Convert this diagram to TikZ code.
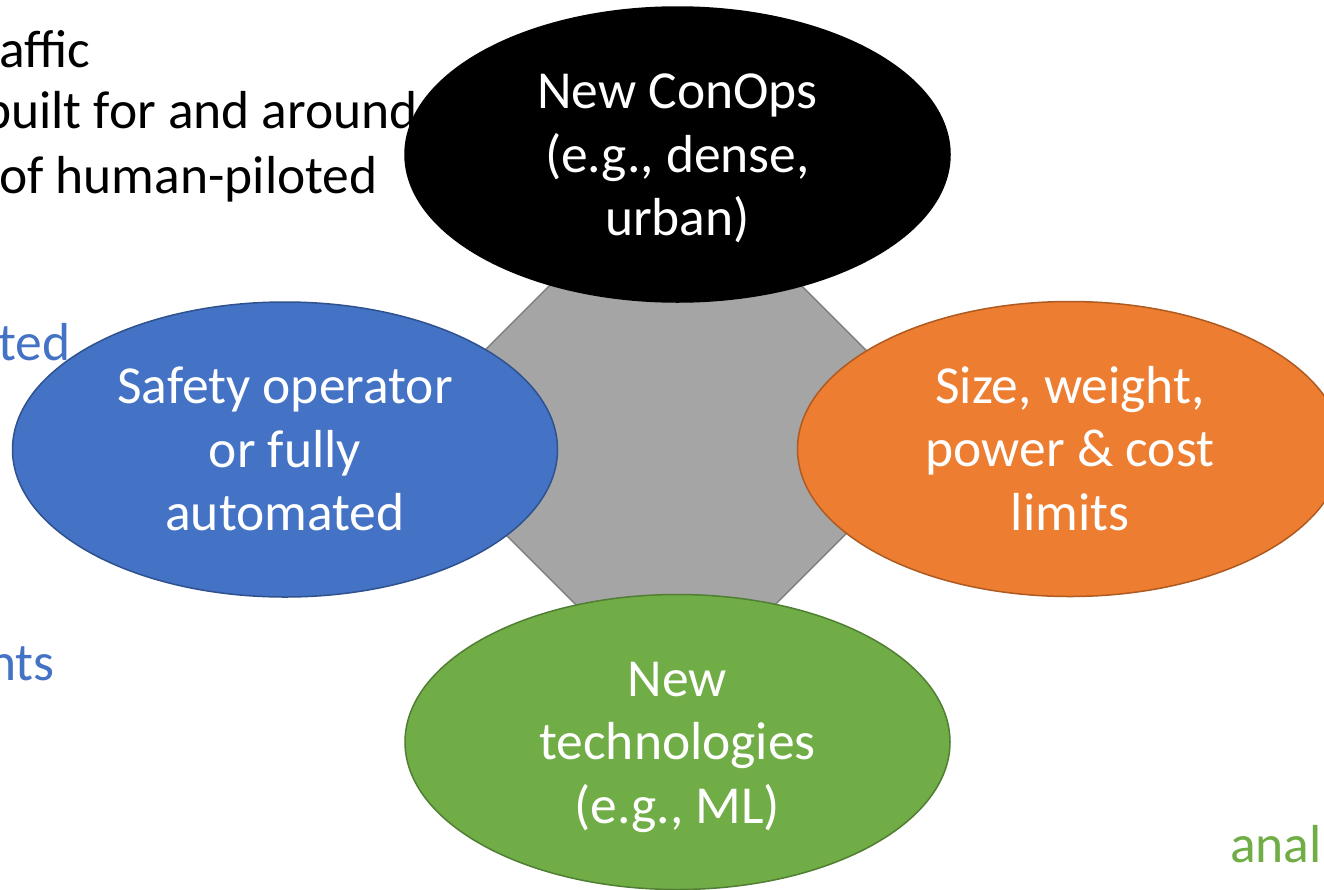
\documentclass[tikz,border=0pt]{standalone}
\usepackage{fontspec}
\setmainfont{Carlito}
\usetikzlibrary{shapes.geometric}
\definecolor{accblue}{HTML}{4472C4}
\definecolor{accblueline}{HTML}{2F528F}
\definecolor{accorange}{HTML}{ED7D31}
\definecolor{accorangeline}{HTML}{AE5A21}
\definecolor{accgreen}{HTML}{70AD47}
\definecolor{accgreenline}{HTML}{507E32}
\definecolor{accgray}{HTML}{A5A5A5}
\definecolor{accgrayline}{HTML}{7F7F7F}
\begin{document}
\begin{tikzpicture}[x=1pt,y=-1pt,
  bubble/.style={ellipse, minimum width=545pt, minimum height=295pt, inner sep=0pt, outer sep=0pt, line width=1.5pt},
  lbl/.style={anchor=base, text=white, inner sep=0pt, font=\fontsize{53.5}{63}\selectfont},
  bg/.style={anchor=base west, inner sep=0pt, font=\fontsize{53.5}{63}\selectfont}]
\useasboundingbox (0,0) rectangle (1324,889);
\clip (0,0) rectangle (1324,889);
% background slide text (cropped)
\node[bg] (t1) at (-1,67) {affic};
\node[bg] (t2) at (-17,128) {built for and around};
\node[bg] (t3) at (-1,193) {of human-piloted};
\node[bg, text=accblue] (t4) at (-2,360) {ted};
\node[bg, text=accblue] (t5) at (-12,680) {nts};
\node[bg, text=accgreen] (t6) at (1230,862) {anal};
% central octagon
\node[regular polygon, regular polygon sides=8, minimum size=417pt, inner sep=0pt, outer sep=0pt,
      fill=accgray, draw=accgrayline, line width=1.5pt] (hub) at (675.5,432) {};
% ellipses
\node[bubble, fill=black, draw=black] (conops) at (677.5,154.5) {};
\node[bubble, fill=accblue, draw=accblueline] (safety) at (285,449.5) {};
\node[bubble, fill=accorange, draw=accorangeline] (swap) at (1070,449) {};
\node[bubble, fill=accgreen, draw=accgreenline] (tech) at (677.5,742) {};
% labels
\node[lbl] (c1) at ([yshift=46pt]conops.center) {New ConOps};
\node[lbl] (c2) at ([yshift=-17.5pt]conops.center) {(e.g., dense,};
\node[lbl] (c3) at ([yshift=-81pt]conops.center) {urban)};
\node[lbl] (s1) at ([yshift=46pt]safety.center) {Safety operator};
\node[lbl] (s2) at ([yshift=-17.5pt]safety.center) {or fully};
\node[lbl] (s3) at ([yshift=-81pt]safety.center) {automated};
\node[lbl] (w1) at ([yshift=46pt]swap.center) {Size, weight,};
\node[lbl] (w2) at ([yshift=-17.5pt]swap.center) {power \& cost};
\node[lbl] (w3) at ([yshift=-81pt]swap.center) {limits};
\node[lbl] (n1) at ([yshift=46pt]tech.center) {New};
\node[lbl] (n2) at ([yshift=-17.5pt]tech.center) {technologies};
\node[lbl] (n3) at ([yshift=-81pt]tech.center) {(e.g., ML)};
\end{tikzpicture}
\end{document}
